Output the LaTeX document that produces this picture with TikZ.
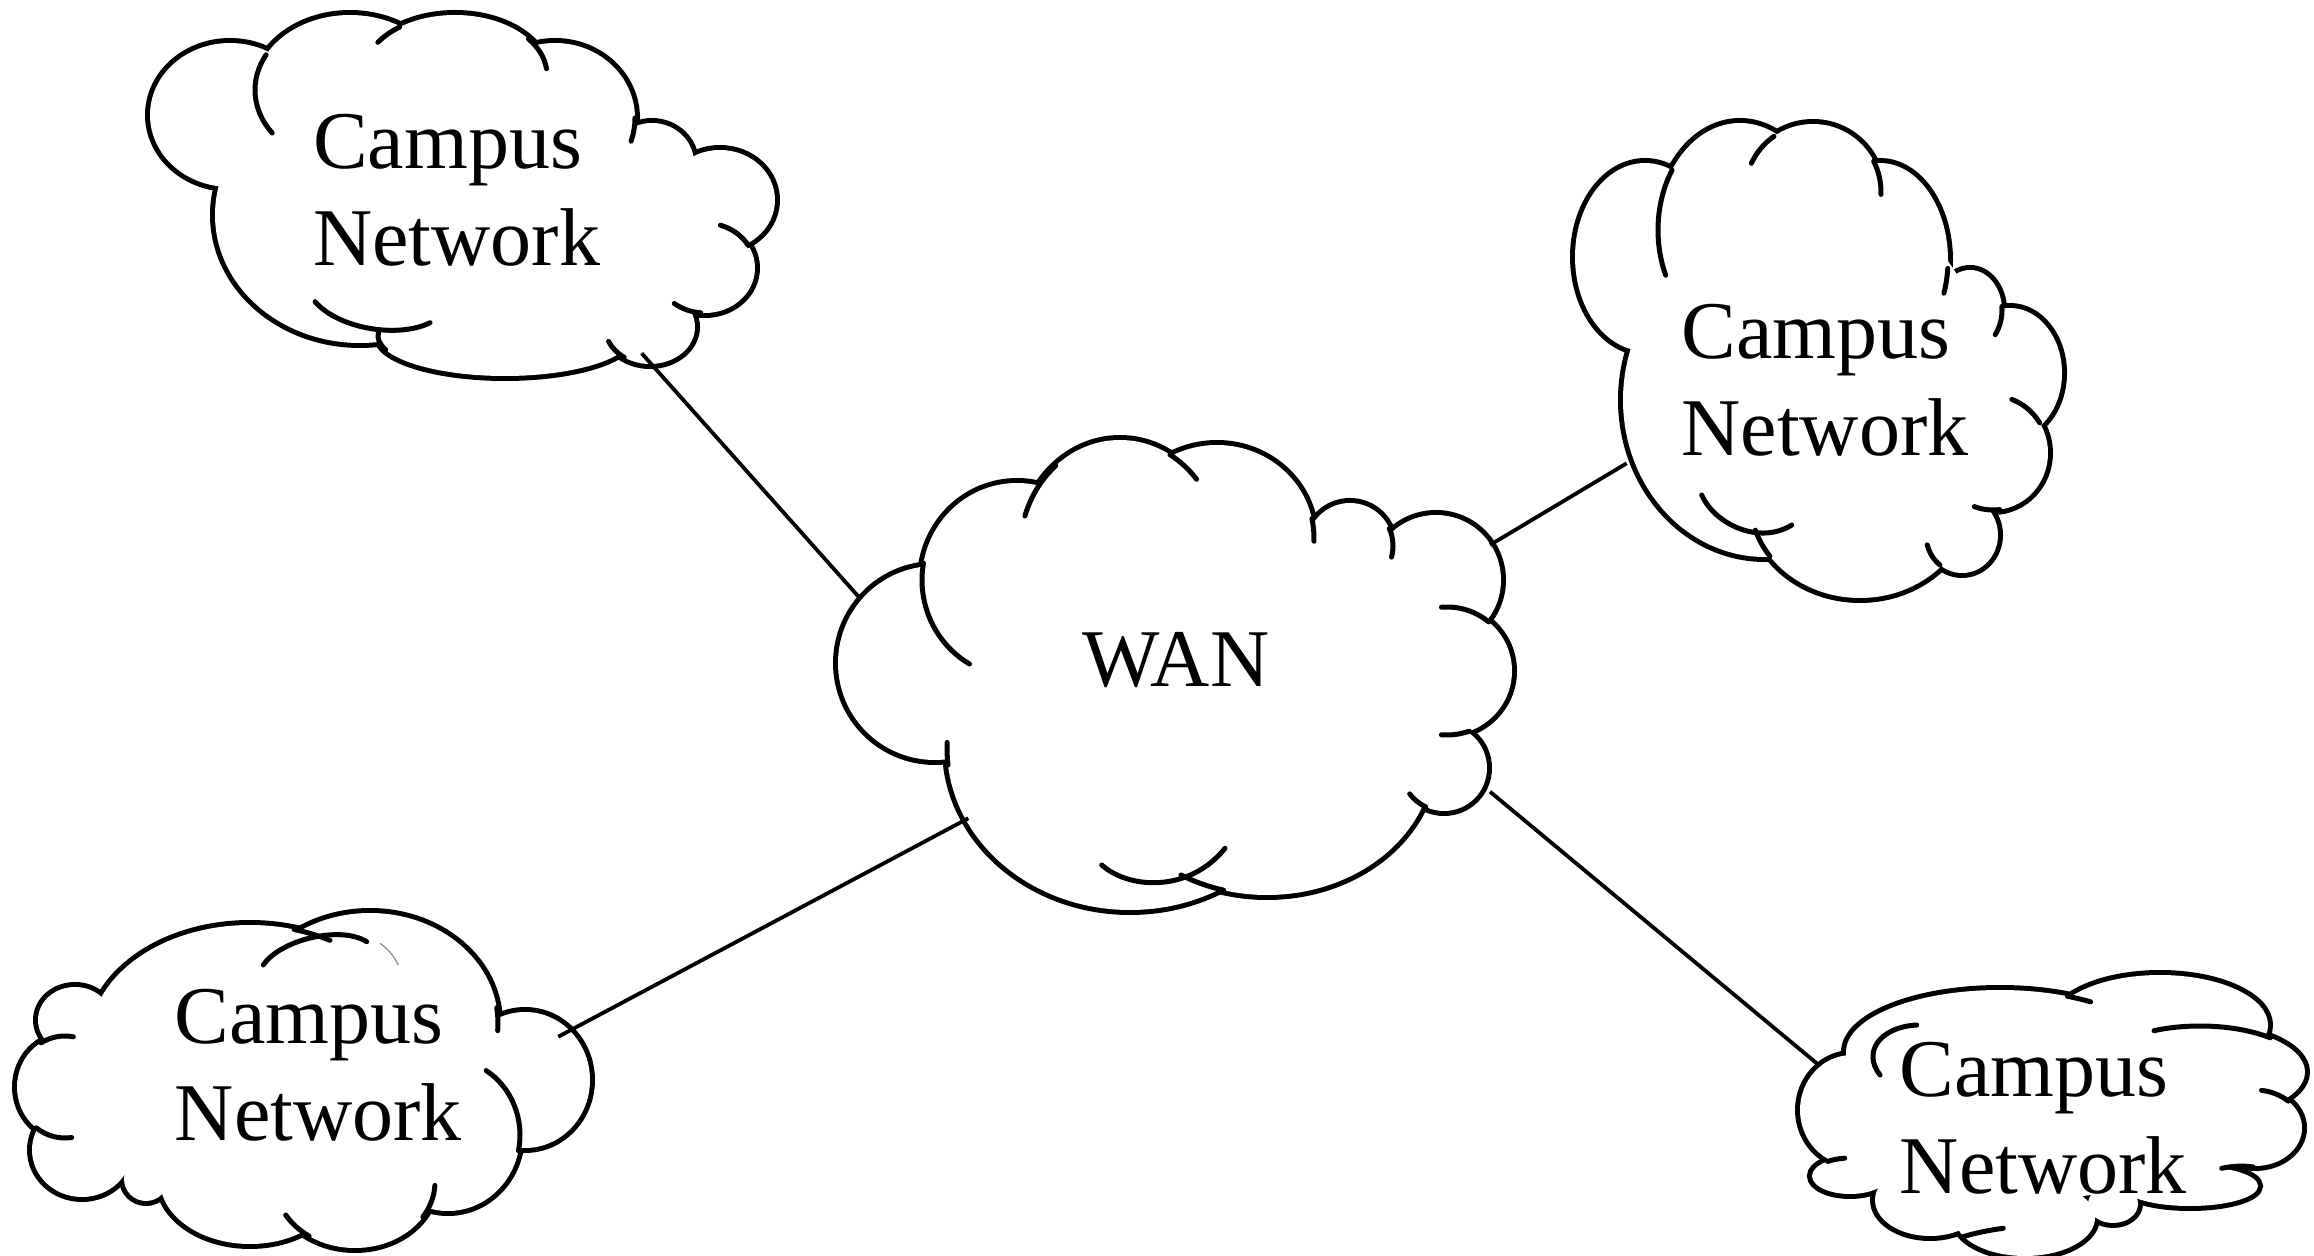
\documentclass[tikz,border=0pt]{standalone}
\usepackage{fontspec}
\setmainfont{Liberation Serif}

% Cloud lobes: centre x / centre y / x radius / y radius (pixel units, y downwards)
\newcommand\wanlobes{935/663/97/97, 1017/580/95/97, 1120/550/100/110, 1217/538/97/93,
  1350/546/43/43, 1436/580/65/65, 1447/671/65/64, 1444/768/43/43, 1267/755/167/140, 1130/748/183/162}
\newcommand\wanfill{1180/680/240/170}
\newcommand\tllobes{230/115/80/72, 350/90/95/75, 455/75/92/60, 555/118/80/75, 652/163/42/40,
  720/200/55/50, 705/268/50/45, 650/327/45/37, 505/336/127/40, 360/215/145/128}
\newcommand\tlfill{450/200/220/120, 655/255/50/55, 585/295/55/30}
\newcommand\trlobes{1645/257/70/94, 1740/230/82/107, 1813/192/68/68, 1880/260/68/97, 1970/310/32/40,
  2010/373/52/65, 1993/453/55/57, 1962/535/36/38, 1860/500/110/98, 1765/400/142/157}
\newcommand\trfill{1830/360/150/160}
\newcommand\bllobes{75/1020/37/33, 65/1087/48/51, 82/1150/50/47, 146/1179/22/22, 250/1180/90/64,
  355/1182/80/66, 448/1135/72/76, 525/1080/65/68, 370/1023/128/110, 250/1040/160/115}
\newcommand\blfill{320/1090/170/120, 158/1125/62/48}
\newcommand\brlobes{1852/1110/52/55, 1850/1176/38/18, 1930/1200/55/36, 2025/1218/70/38, 2113/1204/25/19,
  2190/1186/68/20, 2255/1128/47/38, 2200/1072/105/46, 2160/1025/108/50, 2000/1052/154/62}
\newcommand\brfill{2040/1130/175/68, 1882/1162/30/18, 2195/1160/30/15, 2220/1145/32/24}

% Outline of a cloud = union of its lobes: thick strokes first, then white fills
\newcommand\cloudbody[2]{%
  \foreach \px/\py/\qx/\qy in #1 {\draw[lobe] (\px,\py) ellipse[x radius=\qx, y radius=\qy];}
  \foreach \px/\py/\qx/\qy in #1 {\fill[white] (\px,\py) ellipse[x radius=\qx, y radius=\qy];}
  \foreach \px/\py/\qx/\qy in #2 {\fill[white] (\px,\py) ellipse[x radius=\qx, y radius=\qy];}
}
% Inner piece of a lobe: centre x, centre y, x radius, y radius, start angle, end angle
\newcommand\lobearc[6]{\draw[innerarc, shift={(#1,#2)}] (#5:#3 and #4)
  arc[start angle=#5, end angle=#6, x radius=#3, y radius=#4];}

\begin{document}
\begin{tikzpicture}[x=0.5pt, y=-0.5pt,
  lobe/.style={line width=5pt},
  innerarc/.style={line width=2.5pt, line cap=round},
  link/.style={line width=1.9pt},
  lbl/.style={inner sep=0pt, font=\fontsize{41}{48.5}\selectfont}]

\fill[white] (0,0) rectangle (2314,1256);
\useasboundingbox (0,0) rectangle (2314,1256);

% ---- clouds ----
\cloudbody{\wanlobes}{\wanfill}
\cloudbody{\tllobes}{\tlfill}
\cloudbody{\trlobes}{\trfill}
\cloudbody{\bllobes}{\blfill}
\cloudbody{\brlobes}{\brfill}

% WAN inner arcs
\lobearc{1017}{580}{95}{97}{120}{190}
\lobearc{1120}{550}{100}{110}{198}{230}
\lobearc{1120}{550}{100}{110}{300}{320}
\lobearc{1217}{538}{97}{93}{-12}{2}
\lobearc{1350}{546}{43}{43}{-24}{15}
\lobearc{1447}{671}{65}{64}{-95}{-50}
\lobearc{1447}{671}{65}{64}{70}{95}
\lobearc{1444}{768}{43}{43}{115}{143}
\lobearc{1267}{755}{167}{140}{105}{121}
\lobearc{1130}{748}{183}{162}{174}{182}
\draw[innerarc] (1101.7,865) .. controls (1130,890) and (1190,892) .. (1225,848.3);

% top-left cloud inner arcs
\lobearc{350}{90}{95}{75}{145}{208}
\lobearc{455}{75}{92}{60}{213}{233}
\lobearc{455}{75}{92}{60}{323}{354}
\lobearc{555}{118}{80}{75}{0}{18}
\lobearc{705}{268}{50}{45}{-72}{-30}
\lobearc{705}{268}{50}{45}{95}{128}
\lobearc{650}{327}{45}{37}{125}{157}
\lobearc{505}{336}{127}{40}{160}{185}
\draw[innerarc] (315,301.7) .. controls (340,330) and (400,338) .. (430,322.7);

% top-right cloud inner arcs
\lobearc{1740}{230}{82}{107}{155}{214}
\lobearc{1813}{192}{68}{68}{205}{235}
\lobearc{1813}{192}{68}{68}{-27}{2}
\lobearc{1880}{260}{68}{97}{5}{20}
\lobearc{1970}{310}{32}{40}{-5}{38}
\lobearc{1993}{453}{55}{57}{-70}{-32}
\lobearc{1993}{453}{55}{57}{83}{110}
\lobearc{1962}{535}{36}{38}{128}{165}
\lobearc{1860}{500}{110}{98}{145}{162}
\draw[innerarc] (1701.7,495) .. controls (1715,525) and (1760,545) .. (1791.7,525);

% bottom-left cloud inner arcs
\lobearc{65}{1087}{48}{51}{240}{280}
\lobearc{65}{1087}{48}{51}{82}{127}
\lobearc{355}{1182}{80}{66}{125}{150}
\lobearc{355}{1182}{80}{66}{3}{32}
\lobearc{448}{1135}{72}{76}{-58}{12}
\lobearc{370}{1023}{128}{110}{-8}{4}
\lobearc{250}{1040}{160}{115}{-74}{-60}
\draw[innerarc] (263.3,965) .. controls (280,940) and (340,925) .. (366.7,941.7);
\draw[line width=0.6pt, black!45] (380,943.3) .. controls (388,949) and (394,956) .. (398.3,965);

% bottom-right cloud inner arcs
\lobearc{1850}{1176}{38}{18}{234}{262}
\lobearc{2255}{1128}{47}{38}{-82}{-45}
\lobearc{2200}{1072}{105}{46}{244}{312}
\lobearc{2000}{1052}{154}{62}{-64}{-54}
\draw[innerarc] (1916.7,1025) .. controls (1880,1027) and (1862,1052) .. (1880,1075);
\draw[innerarc] (1963.3,1236.7) .. controls (1975,1233) and (1990,1230) .. (2003.3,1228.3);
\draw[innerarc] (2221.7,1168.3) .. controls (2232,1166) and (2244,1165.5) .. (2253,1167);

% ---- labels ----
\node[lbl, anchor=base west] (wan) at (1082,687) {WAN};
\node[lbl, anchor=base west] (tl) at (312.7,168.3) {\vtop{\hbox{Campus}\hbox{Network}}};
\node[lbl, anchor=base west] (tr) at (1681,358.3) {\vtop{\hbox{Campus}\hbox{Network}}};
\node[lbl, anchor=base west] (bl) at (174.4,1043) {\vtop{\hbox{Campus}\hbox{Network}}};
\node[lbl, anchor=base west] (br) at (1899.4,1096) {\vtop{\hbox{Campus}\hbox{Network}}};

% ---- links between the WAN and the campus networks ----
\coordinate (wan-tl) at (860,598.3);
\coordinate (tl-wan) at (641.7,353.3);
\coordinate (wan-tr) at (1490,545);
\coordinate (tr-wan) at (1626.7,463.3);
\coordinate (wan-bl) at (968.3,818.3);
\coordinate (bl-wan) at (558.3,1036.7);
\coordinate (wan-br) at (1490,791.7);
\coordinate (br-wan) at (1816.7,1063.3);
\draw[link] (wan-tl) -- (tl-wan);
\draw[link] (wan-tr) -- (tr-wan);
\draw[link] (wan-bl) -- (bl-wan);
\draw[link] (wan-br) -- (br-wan);
\end{tikzpicture}
\end{document}
